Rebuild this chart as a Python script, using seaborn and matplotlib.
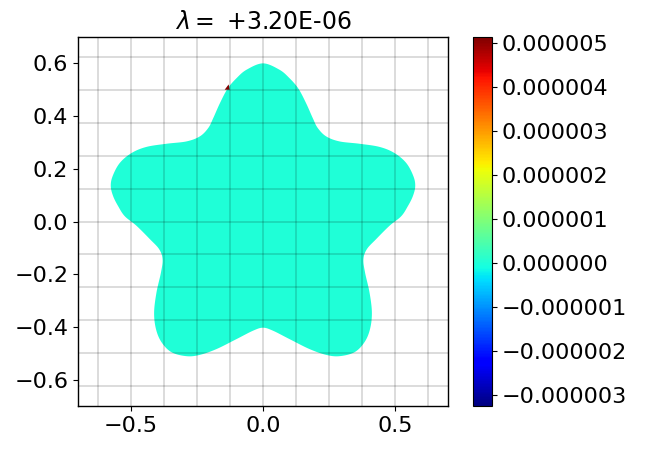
import numpy as np
import seaborn as sns
import matplotlib
matplotlib.use("Agg")
import matplotlib.pyplot as plt
from matplotlib import colors, cm, ticker

# eigenvalue shown in the title and colour range of the field
lam = 3.20e-6
v_min, v_max = -3.25e-6, 5.14e-6
field_value = 0.0

# left half of the domain boundary (top -> bottom)
half_x = [0.0, -0.062, -0.100, -0.134, -0.163, -0.188, -0.207, -0.239, -0.289,
          -0.365, -0.441, -0.497, -0.542, -0.569, -0.576, -0.567, -0.548,
          -0.523, -0.479, -0.428, -0.393, -0.380, -0.386, -0.403, -0.412,
          -0.405, -0.384, -0.346, -0.289, -0.239, -0.176, -0.100, -0.037, 0.0]
half_y = [0.600, 0.576, 0.544, 0.504, 0.449, 0.393, 0.355, 0.323, 0.304,
          0.295, 0.283, 0.260, 0.222, 0.172, 0.134, 0.096, 0.058,
          0.020, -0.016, -0.067, -0.105, -0.143, -0.193, -0.269, -0.345,
          -0.408, -0.458, -0.496, -0.511, -0.506, -0.484, -0.446, -0.414, -0.403]

# small hot spot on the upper edge
spot_x = [-0.145, -0.130, -0.126]
spot_y = [0.500, 0.520, 0.500]
spot_val = 5.1e-6

grid_pos = [-0.625, -0.5, -0.375, -0.25, -0.125, 0.0, 0.125, 0.25, 0.375, 0.5, 0.625]
xticks = [-0.5, 0.0, 0.5]
yticks = [-0.6, -0.4, -0.2, 0.0, 0.2, 0.4, 0.6]
cbar_ticks = [-3e-6, -2e-6, -1e-6, 0, 1e-6, 2e-6, 3e-6, 4e-6, 5e-6]


def smooth_closed(px, py, n=16):
    # periodic Catmull-Rom through the boundary points
    pts = np.column_stack([px, py])
    p0 = np.roll(pts, 1, axis=0)
    p1 = pts
    p2 = np.roll(pts, -1, axis=0)
    p3 = np.roll(pts, -2, axis=0)
    t = np.linspace(0, 1, n, endpoint=False)[:, None, None]
    c = 0.5 * (2 * p1 + (-p0 + p2) * t + (2 * p0 - 5 * p1 + 4 * p2 - p3) * t ** 2
               + (-p0 + 3 * p1 - 3 * p2 + p3) * t ** 3)
    c = c.transpose(1, 0, 2).reshape(-1, 2)
    return c[:, 0], c[:, 1]


sns.set_style("ticks", {"axes.edgecolor": "black", "xtick.color": "black",
                        "ytick.color": "black", "text.color": "black"})
plt.rcParams["font.family"] = ["DejaVu Sans"]

# full outline: left half then mirrored right half
bx = half_x + [-v for v in half_x[-2:0:-1]]
by = half_y + half_y[-2:0:-1]
sx, sy = smooth_closed(bx, by)

norm = colors.Normalize(vmin=v_min, vmax=v_max)
cmap = plt.get_cmap("jet")

fig = plt.figure(figsize=(6.46, 4.5), dpi=100)
ax = fig.add_axes([78 / 646, 44 / 450, 370 / 646, 369 / 450])
cax = fig.add_axes([473 / 646, 44 / 450, 18.5 / 646, 369 / 450])

ax.fill(sx, sy, color=cmap(norm(field_value)), lw=0, zorder=1)
ax.fill(spot_x, spot_y, color=cmap(norm(spot_val)), lw=0, zorder=1)

for g in grid_pos:
    ax.axvline(g, color="black", alpha=0.18, lw=1.1, zorder=2)
    ax.axhline(g, color="black", alpha=0.18, lw=1.1, zorder=2)

ax.set_xlim(-0.7, 0.7)
ax.set_ylim(-0.7, 0.7)
ax.set_xticks(xticks)
ax.set_yticks(yticks)
ax.tick_params(labelsize=16)
for s in ax.spines.values():
    s.set_linewidth(1.0)
ax.set_title(f"$\\lambda =$ {lam:+.2E}", fontsize=17)

sm = cm.ScalarMappable(norm=norm, cmap=cmap)
cb = fig.colorbar(sm, cax=cax, ticks=cbar_ticks)
cb.ax.yaxis.set_major_formatter(
    ticker.FuncFormatter(lambda v, p: f"{v:.6f}".replace("-", "\u2212")))
cb.ax.tick_params(labelsize=16)

fig.savefig("out.png", dpi=100)
